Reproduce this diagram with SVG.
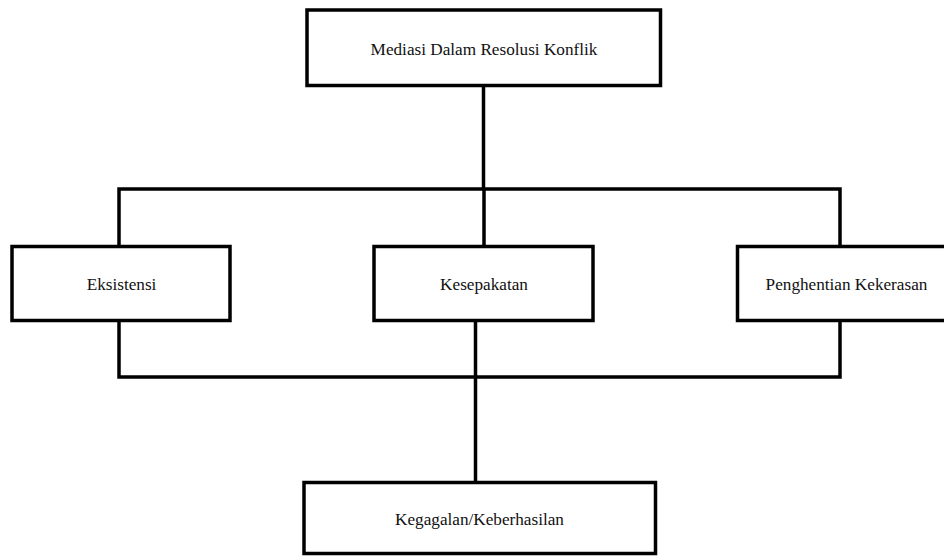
<svg xmlns="http://www.w3.org/2000/svg" width="944" height="556" viewBox="0 0 944 556">
<style>
.box{fill:#fff;stroke:#000;stroke-width:3.5}
.ln{fill:none;stroke:#000;stroke-width:3.5}
text{font-family:"Liberation Serif","Times New Roman",serif;font-size:17.2px;fill:#111;text-anchor:middle}
</style>
<rect width="944" height="556" fill="#fff"/>
<g id="connectors">
<path class="ln" d="M483.5 85 V189"/>
<path class="ln" d="M119 247 V189 H840 V247"/>
<path class="ln" d="M484 189 V247"/>
<path class="ln" d="M119 320 V377 H840 V320"/>
<path class="ln" d="M475.5 320 V483"/>
</g>
<g id="n-top"><rect class="box" x="307" y="10" width="353.5" height="75.5"/><text x="484" y="54.5">Mediasi Dalam Resolusi Konflik</text></g>
<g id="n-eksistensi"><rect class="box" x="12" y="246.5" width="218" height="74"/><text x="121.5" y="290">Eksistensi</text></g>
<g id="n-kesepakatan"><rect class="box" x="374" y="246.5" width="219" height="74"/><text x="484" y="290">Kesepakatan</text></g>
<g id="n-penghentian"><rect class="box" x="737.5" y="246.5" width="220" height="74"/><text x="846.5" y="290">Penghentian Kekerasan</text></g>
<g id="n-hasil"><rect class="box" x="304" y="482.5" width="351.5" height="71"/><text x="479.5" y="525">Kegagalan/Keberhasilan</text></g>
</svg>
